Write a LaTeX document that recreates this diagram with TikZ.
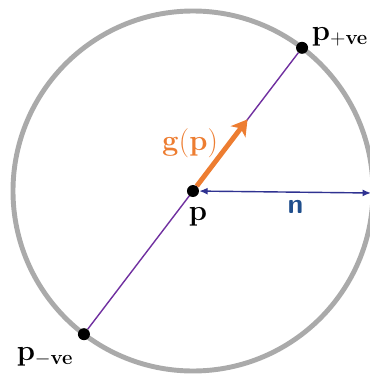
\documentclass[tikz,border=0pt]{standalone}
\usetikzlibrary{arrows.meta}
\definecolor{rimgray}{RGB}{170,170,170}
\definecolor{linepurple}{RGB}{112,48,160}
\definecolor{gradorange}{RGB}{237,125,49}
\definecolor{normblue}{RGB}{47,50,145}
\definecolor{labelblue}{RGB}{31,78,140}
\begin{document}
\begin{tikzpicture}[
dot/.style={
circle,
fill=black,
inner sep=0pt,
minimum size=0.3cm
},
lbl/.style={
font=\fontsize{20}{24}\selectfont
}
]

\useasboundingbox (-4.825,-4.625) rectangle (4.425,4.775);

\draw[rimgray,line width=3.5pt] (0,0) circle (4.5);

\node[dot] (Ppos) at (52.7:4.5) {};
\node[dot] (Pneg) at (232.7:4.5) {};

\draw[linepurple,line width=1pt] (Pneg) -- (Ppos);

\node[dot] (P) at (0,0) {};

\coordinate (G) at (52.7:2.25);
\coordinate (R) at (4.45,-0.05);

\draw[gradorange,line width=3.5pt,-{Stealth[length=11pt,width=13pt,inset=3pt]}] (P) -- (G);
\draw[normblue,line width=1pt,{Latex[length=6pt,width=5pt]}-{Latex[length=6pt,width=5pt]}] (P) -- (R);

\node[lbl,gradorange] (Glbl) at (-0.075,1.2)
{$\mathbf{g(p)}$};

\node[lbl] (Plbl) at (0.125,-0.65)
{$\mathbf{p}$};

\node[lbl] (PposLbl) at (3.675,3.85)
{$\mathbf{p}_{+\mathbf{ve}}$};

\node[lbl] (PnegLbl) at (-3.7,-4.15)
{$\mathbf{p}_{-\mathbf{ve}}$};

\node[lbl,labelblue] (Nlbl) at (2.56,-0.41)
{\sffamily\bfseries n};

\end{tikzpicture}
\end{document}
